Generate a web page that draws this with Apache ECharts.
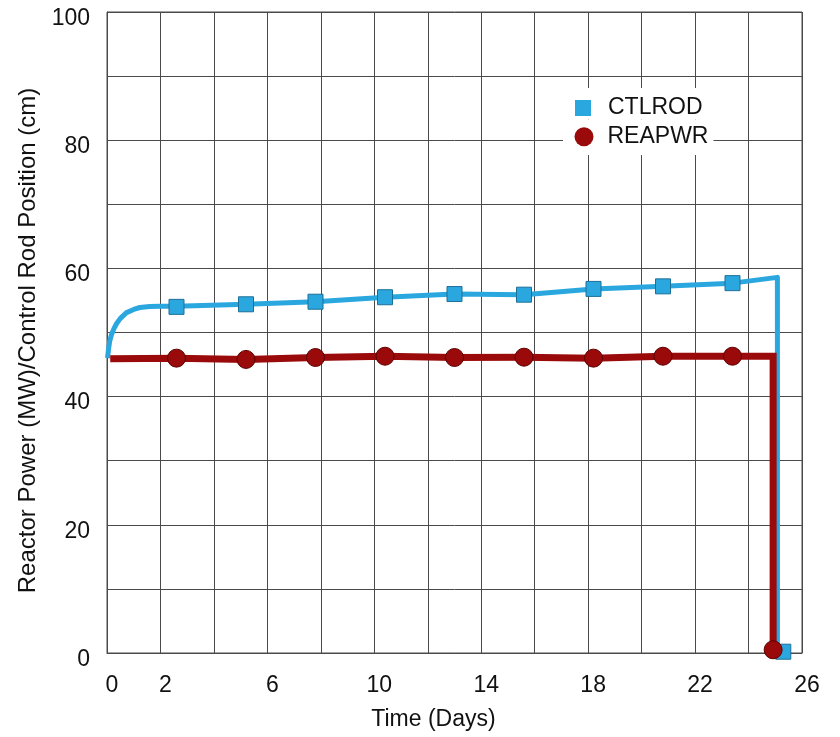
<!DOCTYPE html>
<html>
<head>
<meta charset="utf-8">
<script src="https://cdn.jsdelivr.net/npm/echarts@6/dist/echarts.min.js"></script>
<style>
html,body{margin:0;padding:0;background:#ffffff;}
#chart{width:840px;height:737px;}
</style>
</head>
<body>
<div id="chart"></div>
<script>
// ---- data ----
const xTickLabels = [0, 2, 6, 10, 14, 18, 22, 26];
const yTickLabels = [0, 20, 40, 60, 80, 100];

// CTLROD (control rod position, cm) - line path
const ctlLineDays = [0.02, 0.06, 0.1, 0.17, 0.26, 0.36, 0.5, 0.73, 1.0, 1.23, 1.6, 1.98, 2.6, 5.2, 7.8, 10.4, 13.0, 15.6, 18.2, 20.8, 23.4, 25.08, 25.08];
const ctlLinePos  = [46.0, 47.5, 48.6, 49.7, 50.6, 51.4, 52.2, 53.1, 53.6, 53.9, 54.05, 54.1, 54.1, 54.4, 54.8, 55.5, 56.0, 55.9, 56.8, 57.2, 57.7, 58.6, 0.3];
// CTLROD markers
const ctlMarkDays = [2.6, 5.2, 7.8, 10.4, 13.0, 15.6, 18.2, 20.8, 23.4, 25.3];
const ctlMarkPos  = [54.0, 54.4, 54.8, 55.5, 56.0, 55.9, 56.8, 57.2, 57.7, 0.2];

// REAPWR (reactor power, MW) - line path
const pwrLineDays = [0.12, 2.6, 5.2, 7.8, 10.4, 13.0, 15.6, 18.2, 20.8, 23.4, 24.92, 24.92];
const pwrLinePow  = [45.9, 46.0, 45.8, 46.1, 46.3, 46.1, 46.15, 46.0, 46.3, 46.3, 46.3, 0.5];
// REAPWR markers
const pwrMarkDays = [2.6, 5.2, 7.8, 10.4, 13.0, 15.6, 18.2, 20.8, 23.4, 24.92];
const pwrMarkPow  = [46.0, 45.8, 46.1, 46.3, 46.1, 46.15, 46.0, 46.3, 46.3, 0.5];

const zip = (a, b) => a.map((v, i) => [v, b[i]]);

const FONT = '"Liberation Sans", Arial, Helvetica, sans-serif';
const BLUE = '#2aa7df';
const BLUE_EDGE = '#1d6f98';
const RED = '#9a0a0a';
const RED_EDGE = '#5e0000';
const GRIDC = '#4a4a4a';

const chart = echarts.init(document.getElementById('chart'), null, {renderer: 'canvas'});
chart.setOption({
  backgroundColor: '#ffffff',
  animation: false,
  textStyle: {fontFamily: FONT},
  grid: {left: 107, right: 38, top: 12, bottom: 84, show: true, borderColor: GRIDC, borderWidth: 1, backgroundColor: 'transparent'},
  legend: [
    {
      data: [{name: 'CTLROD', icon: 'rect', itemStyle: {color: BLUE, borderColor: BLUE_EDGE, borderWidth: 0}}],
      left: 563, top: 88,
      padding: [8.5, 13, 0, 12],
      itemWidth: 16, itemHeight: 16,
      backgroundColor: '#ffffff',
      selectedMode: false,
      textStyle: {fontFamily: FONT, fontSize: 23, lineHeight: 23, color: '#111', padding: [0, 0, 0, 12]}
    },
    {
      data: [{name: 'REAPWR', icon: 'circle', itemStyle: {color: RED, borderColor: RED_EDGE, borderWidth: 0}}],
      left: 563, top: 119.5,
      padding: [5.7, 5, 6.8, 11.5],
      itemWidth: 20, itemHeight: 19,
      backgroundColor: '#ffffff',
      selectedMode: false,
      textStyle: {fontFamily: FONT, fontSize: 23, lineHeight: 23, color: '#111', padding: [0, 0, 0, 8.5]}
    }
  ],
  xAxis: {
    type: 'value', min: 0, max: 26, interval: 2,
    name: 'Time (Days)', nameLocation: 'middle', nameGap: 55,
    nameTextStyle: {fontFamily: FONT, fontSize: 23, lineHeight: 23, color: '#111', padding: [0, 42, 0, 0]},
    axisLine: {show: true, lineStyle: {color: GRIDC, width: 1}},
    axisTick: {show: false},
    axisLabel: {
      fontFamily: FONT, fontSize: 23, color: '#111', margin: 21, padding: [0, 0, 0, 10],
      formatter: v => xTickLabels.indexOf(v) >= 0 ? String(v) : ''
    },
    splitLine: {show: true, lineStyle: {color: GRIDC, width: 1}}
  },
  yAxis: {
    type: 'value', min: 0, max: 100, interval: 10,
    name: 'Reactor Power (MW)/Control Rod Position (cm)', nameLocation: 'middle', nameGap: 64,
    nameTextStyle: {fontFamily: FONT, fontSize: 24, lineHeight: 24, color: '#111', padding: [0, 16, 0, 0]},
    axisLine: {show: true, lineStyle: {color: GRIDC, width: 1}},
    axisTick: {show: false},
    axisLabel: {
      fontFamily: FONT, fontSize: 23, color: '#111', margin: 17,
      formatter: v => yTickLabels.indexOf(v) >= 0 ? '{v|' + v + '}' : '',
      rich: {v: {fontFamily: FONT, fontSize: 23, color: '#111', padding: [13, 0, 0, 0]}}
    },
    splitLine: {show: true, lineStyle: {color: GRIDC, width: 1}}
  },
  series: [
    {
      name: 'CTLROD', type: 'line', data: zip(ctlLineDays, ctlLinePos),
      showSymbol: false, symbol: 'none', smooth: false,
      lineStyle: {color: BLUE, width: 5, join: 'round', cap: 'butt'},
      itemStyle: {color: BLUE}, z: 2
    },
    {
      name: 'CTLROD', type: 'scatter', data: zip(ctlMarkDays, ctlMarkPos),
      symbol: 'rect', symbolSize: 15,
      itemStyle: {color: BLUE, borderColor: BLUE_EDGE, borderWidth: 1, opacity: 1}, z: 3
    },
    {
      name: 'REAPWR', type: 'line', data: zip(pwrLineDays, pwrLinePow),
      showSymbol: false, symbol: 'none', smooth: false,
      lineStyle: {color: RED, width: 7, join: 'miter', cap: 'butt'},
      itemStyle: {color: RED}, z: 4
    },
    {
      name: 'REAPWR', type: 'scatter', data: zip(pwrMarkDays, pwrMarkPow),
      symbol: 'circle', symbolSize: 18,
      itemStyle: {color: RED, borderColor: RED_EDGE, borderWidth: 1, opacity: 1}, z: 5
    }
  ]
});
</script>
</body>
</html>
